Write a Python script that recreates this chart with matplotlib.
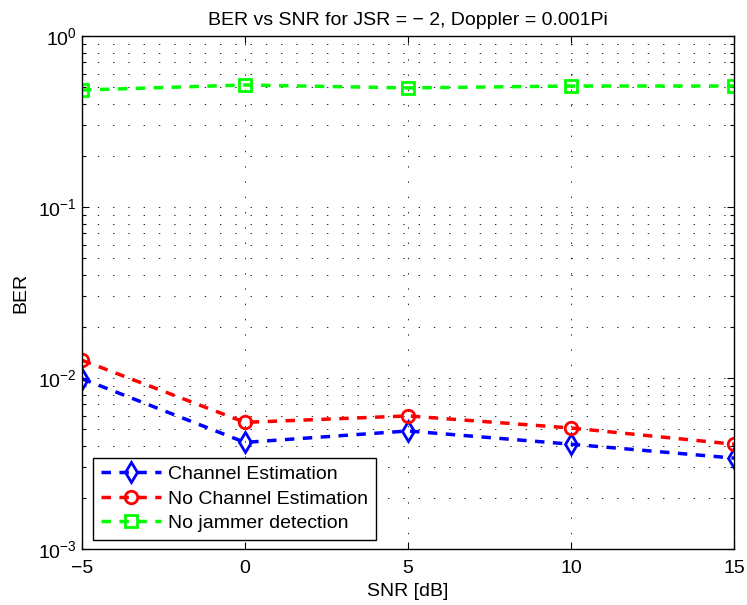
import matplotlib.pyplot as plt
from matplotlib.ticker import LogLocator, NullFormatter

plt.rcParams["font.family"] = ["Liberation Sans", "DejaVu Sans"]
plt.rcParams["mathtext.fontset"] = "custom"
plt.rcParams["mathtext.rm"] = "Liberation Sans"
plt.rcParams["mathtext.it"] = "Liberation Sans"
plt.rcParams["axes.unicode_minus"] = True
plt.rcParams["lines.scale_dashes"] = False

# SNR points and BER curves
snr = [-5, 0, 5, 10, 15]
ber_channel_est = [0.0099, 0.0042, 0.0049, 0.0041, 0.0034]
ber_no_channel_est = [0.0127, 0.0055, 0.0060, 0.0051, 0.0041]
ber_no_jammer_det = [0.483, 0.517, 0.497, 0.51, 0.51]

x_ticks = [-5, 0, 5, 10, 15]
x_tick_labels = ["\u22125", "0", "5", "10", "15"]
y_ticks = [1e-3, 1e-2, 1e-1, 1e0]
y_tick_labels = [r"$10^{-3}$", r"$10^{-2}$", r"$10^{-1}$", r"$10^{0}$"]

fs = 14
dash = (0, (6.8, 6.1))

fig = plt.figure(figsize=(7.47, 6.05), dpi=100)
ax = fig.add_axes([0.1098, 0.0926, 0.8728, 0.8479])

ax.semilogy(snr, ber_channel_est, marker="d", color="blue", ls=dash, lw=2.5,
            ms=10, mew=2, mfc="none", label="Channel Estimation")
ax.semilogy(snr, ber_no_channel_est, marker="o", color="red", ls=dash, lw=2.5,
            ms=9, mew=2, mfc="none", label="No Channel Estimation")
ax.semilogy(snr, ber_no_jammer_det, marker="s", color="#00ff00", ls=dash,
            lw=2.5, ms=8, mew=2, mfc="none", label="No jammer detection")

ax.set_xlim(-5, 15)
ax.set_ylim(1e-3, 1e0)
ax.set_xticks(x_ticks)
ax.set_xticklabels(x_tick_labels)
ax.set_yticks(y_ticks)
ax.set_yticklabels(y_tick_labels)
ax.yaxis.set_minor_locator(LogLocator(base=10, subs=range(2, 10)))
ax.yaxis.set_minor_formatter(NullFormatter())

ax.tick_params(which="both", direction="in", top=True, right=True,
               labelsize=fs, width=0.8)
ax.tick_params(which="major", length=5)
ax.tick_params(which="minor", length=3)
ax.tick_params(axis="x", pad=8)
ax.tick_params(axis="y", pad=4)

ax.grid(True, which="major", color="black", linestyle=(0, (1, 10)), lw=0.6)
ax.grid(True, which="minor", axis="y", color="black",
        linestyle=(0, (1, 10)), lw=0.6)
for spine in ax.spines.values():
    spine.set_linewidth(1.0)

ax.set_title("BER vs SNR for JSR = \u2212 2, Doppler = 0.001Pi", fontsize=fs,
             pad=8)
ax.set_xlabel("SNR [dB]", fontsize=fs, labelpad=4)
ax.set_ylabel("BER", fontsize=fs, labelpad=6)

leg = ax.legend(loc="lower left", bbox_to_anchor=(0.017, 0.018),
                fontsize=fs, fancybox=False, framealpha=1,
                edgecolor="black", handlelength=3.1, borderaxespad=0,
                borderpad=0.4, labelspacing=0.35, handletextpad=0.35)
leg.get_frame().set_linewidth(1.0)

fig.savefig("out.png", dpi=100)
